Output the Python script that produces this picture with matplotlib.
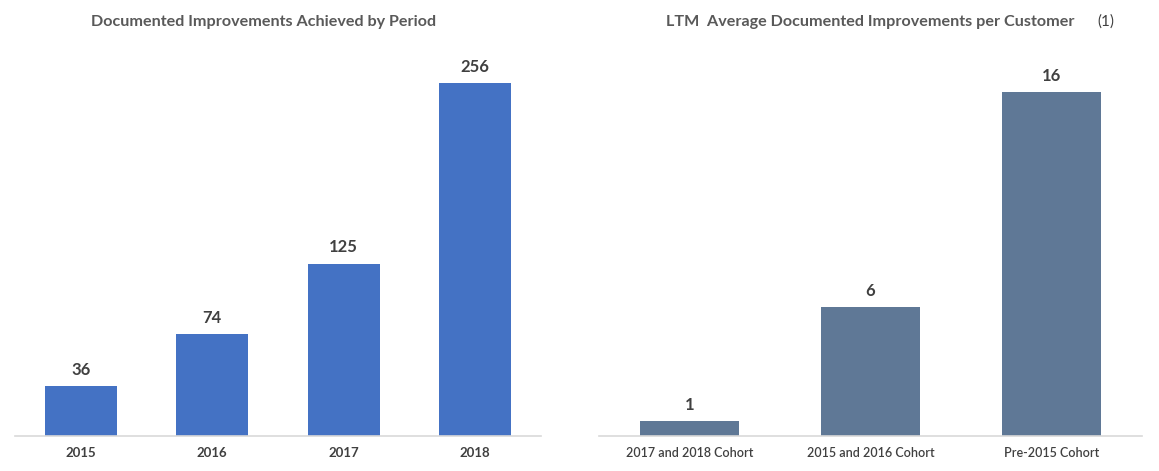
import matplotlib.pyplot as plt
import numpy as np

plt.rcParams['font.family'] = ['Lato', 'DejaVu Sans']

periods = ['2015', '2016', '2017', '2018']
improvements = [36, 74, 125, 256]

cohorts = ['2017 and 2018 Cohort', '2015 and 2016 Cohort', 'Pre-2015 Cohort']
avg_improvements = [0.7, 6.0, 16.0]

W, H = 1159, 471
fig = plt.figure(figsize=(W / 100, H / 100), dpi=100)

text_col = '#404040'
title_col = '#595959'
axis_col = '#D9D9D9'


def style(ax):
    for s in ['top', 'right', 'left']:
        ax.spines[s].set_visible(False)
    ax.spines['bottom'].set_color(axis_col)
    ax.spines['bottom'].set_linewidth(1.2)
    ax.set_yticks([])
    ax.tick_params(axis='x', length=0, pad=8)


# left panel: axis from x=15 to 541, baseline y=436, 256 -> y=83
ax1 = fig.add_axes([15 / W, (H - 436) / H, 526 / W, (436 - 22) / H])
x1 = np.arange(len(periods))
ax1.bar(x1, improvements, width=0.55, color='#4472C4')
ax1.set_xlim(-0.5, len(periods) - 0.5)
ax1.set_ylim(0, 256 * (436 - 22) / (436 - 83))
ax1.set_xticks(x1)
ax1.set_xticklabels(periods, fontsize=9.5, fontweight='bold', color=text_col)
style(ax1)
for xi, v in zip(x1, improvements):
    ax1.annotate(str(v), (xi, v), xytext=(0, 6), textcoords='offset points',
                 ha='center', va='bottom', fontsize=12, fontweight='bold',
                 color=text_col)

# right panel: axis from x=599 to 1142, 16 -> y=92
ax2 = fig.add_axes([599 / W, (H - 436) / H, 543 / W, (436 - 22) / H])
x2 = np.arange(len(cohorts))
ax2.bar(x2, avg_improvements, width=0.55, color='#5F7896')
ax2.set_xlim(-0.5, len(cohorts) - 0.5)
ax2.set_ylim(0, 16 * (436 - 22) / (436 - 92))
ax2.set_xticks(x2)
ax2.set_xticklabels(cohorts, fontsize=9, fontweight='semibold', color=text_col)
style(ax2)
for xi, v in zip(x2, avg_improvements):
    ax2.annotate(f'{v:.0f}', (xi, v), xytext=(0, 6), textcoords='offset points',
                 ha='center', va='bottom', fontsize=12, fontweight='bold',
                 color=text_col)

fig.text(264 / W, 1 - 22 / H, 'Documented Improvements Achieved by Period',
         ha='center', va='center', fontsize=11.6, fontweight='bold', color=title_col)
fig.text(870 / W, 1 - 22 / H, 'LTM  Average Documented Improvements per Customer',
         ha='center', va='center', fontsize=11.6, fontweight='bold', color=title_col)
fig.text(1097 / W, 1 - 22 / H, '(1)', ha='left', va='center', fontsize=11,
         color=text_col)

fig.savefig('out.png', dpi=100, facecolor='white')
